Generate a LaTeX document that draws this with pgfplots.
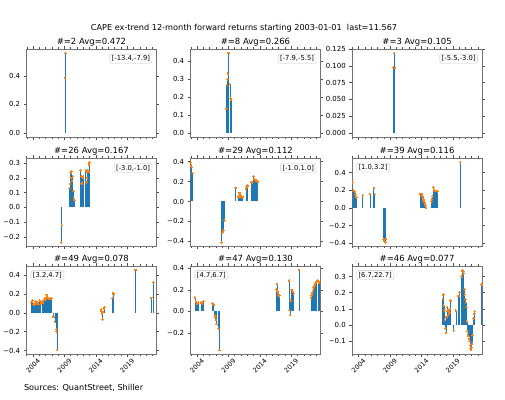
\documentclass[border=0pt]{standalone}
\usepackage{pgfplots}
\pgfplotsset{compat=1.18}
\usepackage{pgfplotstable}
\usepackage{fontspec}
\setmainfont{DejaVu Sans}
\definecolor{mplblue}{RGB}{31,119,180}
\definecolor{mplorange}{RGB}{255,127,14}

\pgfplotstableread{
x y
2009.083 0.386
2009.167 0.558
}\dA
\pgfplotstableread{
x y
2008.667 0.135
2008.750 0.267
2008.833 0.299
2008.917 0.332
2009.000 0.446
2009.250 0.273
2009.333 0.194
2009.417 0.185
}\dB
\pgfplotstableread{
x y
2009.583 0.098
2009.667 0.119
2009.750 0.097
}\dC
\pgfplotstableread{
x y
2008.500 -0.236
2008.583 -0.119
2009.833 0.13
2009.917 0.16
2010.000 0.235
2010.083 0.20
2010.167 0.245
2010.250 0.18
2010.333 0.21
2010.417 0.11
2010.500 0.06
2010.583 0.05
2011.583 0.25
2011.667 0.21
2011.750 0.16
2011.833 0.17
2011.917 0.20
2012.000 0.21
2012.417 0.25
2012.500 0.17
2012.583 0.20
2012.667 0.24
2012.750 0.25
2012.833 0.24
2012.917 0.29
2013.000 0.305
}\dD
\pgfplotstableread{
x y
2003.000 0.394
2003.083 0.36
2003.167 0.345
2003.250 0.285
2007.917 -0.41
2008.083 -0.31
2008.250 -0.29
2008.417 -0.19
2010.167 0.136
2010.583 0.046
2010.667 0.05
2010.750 0.086
2010.833 0.07
2010.917 0.063
2011.000 0.046
2011.083 0.04
2011.167 0.05
2011.250 0.046
2011.833 0.13
2011.917 0.15
2012.083 0.16
2012.583 0.195
2012.833 0.19
2013.000 0.255
2013.083 0.228
2013.250 0.218
2013.417 0.21
2013.583 0.205
2013.667 0.20
}\dE
\pgfplotstableread{
x y
2003.083 0.29
2003.167 0.20
2003.250 0.20
2003.333 0.19
2003.417 0.18
2003.500 0.15
2003.583 0.13
2003.667 0.12
2004.667 0.143
2005.833 0.16
2006.417 0.226
2006.583 0.155
2008.000 -0.36
2008.083 -0.37
2008.167 -0.385
2008.250 -0.39
2008.333 -0.35
2013.833 0.158
2013.917 0.16
2014.000 0.158
2014.083 0.15
2014.167 0.13
2014.250 0.113
2014.333 0.09
2014.417 0.075
2014.500 0.06
2014.583 0.045
2014.667 0.03
2014.750 0.0
2015.583 0.075
2015.667 0.10
2015.750 0.13
2015.917 0.234
2016.000 0.21
2016.083 0.196
2016.250 0.19
2016.417 0.19
2016.583 0.185
2020.167 0.517
}\dF
\pgfplotstableread{
x y
2003.750 0.112
2003.833 0.12
2003.917 0.13
2004.083 0.09
2004.167 0.08
2004.250 0.095
2004.333 0.10
2004.417 0.123
2004.500 0.11
2004.583 0.10
2004.750 0.112
2004.833 0.10
2004.917 0.09
2005.083 0.13
2005.167 0.12
2005.250 0.10
2005.417 0.10
2005.500 0.12
2005.583 0.11
2005.667 0.13
2005.750 0.137
2005.917 0.14
2006.000 0.158
2006.083 0.15
2006.167 0.19
2006.250 0.17
2006.333 0.165
2006.500 0.15
2006.667 0.147
2006.833 0.15
2006.917 0.15
2007.250 -0.045
2007.500 -0.10
2007.667 -0.175
2007.750 -0.20
2007.833 -0.395
2014.833 0.035
2014.917 0.01
2015.000 -0.01
2015.083 -0.07
2015.167 0.007
2015.333 0.042
2015.417 0.06
2016.667 0.155
2016.750 0.21
2016.833 0.20
2020.333 0.453
2022.833 0.158
2023.167 0.32
}\dG
\pgfplotstableread{
x y
2003.667 0.127
2003.833 0.09
2004.000 0.075
2004.167 0.08
2004.667 0.08
2004.833 0.075
2005.000 0.09
2006.500 0.075
2006.583 0.065
2006.667 0.06
2006.833 -0.035
2006.917 -0.05
2007.000 -0.08
2007.083 -0.12
2007.417 -0.16
2007.583 -0.36
2016.667 0.205
2016.750 0.255
2016.833 0.183
2016.917 0.168
2017.000 0.152
2017.083 0.14
2017.167 0.15
2018.667 0.286
2018.750 0.012
2018.833 -0.035
2018.917 0.10
2019.083 0.20
2019.250 0.183
2019.417 0.168
2020.250 0.385
2022.167 0.13
2022.250 0.15
2022.333 0.168
2022.417 0.18
2022.500 0.205
2022.583 0.22
2022.667 0.236
2022.750 0.245
2022.833 0.255
2022.917 0.26
2023.000 0.276
2023.083 0.28
2023.250 0.286
2023.333 0.28
2023.417 0.27
2023.500 0.275
}\dH
\pgfplotstableread{
x y
2017.417 0.16
2017.500 0.187
2017.583 0.12
2017.667 0.09
2017.750 0.03
2017.833 -0.022
2017.917 -0.049
2018.000 0.05
2018.083 0.11
2018.167 0.086
2018.250 0.06
2018.333 0.094
2018.417 0.07
2018.500 0.08
2018.583 0.10
2018.667 0.15
2019.167 -0.033
2019.500 0.09
2019.917 0.18
2020.083 0.20
2020.417 0.30
2020.500 0.335
2020.583 0.34
2020.667 0.33
2020.750 0.32
2020.833 0.22
2020.917 0.19
2021.000 0.16
2021.083 0.14
2021.167 0.11
2021.250 0.02
2021.333 -0.04
2021.417 -0.063
2021.500 -0.07
2021.583 -0.084
2021.667 -0.10
2021.750 -0.125
2021.833 -0.145
2021.917 -0.155
2022.000 -0.14
2022.083 -0.115
2022.167 -0.063
2022.333 0.04
2022.417 0.07
2022.500 0.086
2023.583 0.249
}\dI

\tikzset{
  rng/.style={draw=black!22, fill=white, rounded corners=1.5bp, inner xsep=2bp, inner ysep=1.5bp, font=\fontsize{6.8}{8}\selectfont},
}
\pgfplotsset{
  panel/.style={
    scale only axis, width=129.5bp, height=88bp, anchor=north west,
    xmin=2003, xmax=2023.62,
    xtick={2004,2009,2014,2019},
    minor xtick={2003,2004,...,2023},
    xticklabels={,,,},
    tick align=outside,
    major tick length=3bp, minor tick length=1.8bp,
    every tick/.style={black!70, line width=0.4bp},
    axis line style={black!55, line width=0.6bp},
    ticklabel style={font=\fontsize{7}{8}\selectfont},
    title style={font=\fontsize{8.5}{10}\selectfont, yshift=-6.5bp},
  },
  bottompanel/.style={
    xticklabels={2004,2009,2014,2019},
    xticklabel style={yshift=-8.5bp, rotate=45, anchor=center, font=\fontsize{6.6}{8}\selectfont},
  },
  stem/.style={ycomb, draw=mplblue, line width=0.7bp, mark=none},
  dots/.style={only marks, mark=*, mark size=0.75bp, color=mplorange, mark options={fill=mplorange, draw=mplorange, line width=0bp}},
}
\newcommand{\rngR}[1]{\node[rng, anchor=north east] at ([xshift=-4bp,yshift=-5bp]rel axis cs:1,1) {#1};}
\newcommand{\rngL}[1]{\node[rng, anchor=north west] at ([xshift=4bp,yshift=-4.5bp]rel axis cs:0,1) {#1};}

\begin{document}
\begin{tikzpicture}
\useasboundingbox (0,0) rectangle (505bp,400bp);
\node[font=\fontsize{8.2}{10}\selectfont] at (244bp,372bp) {CAPE ex-trend 12-month forward returns starting 2003-01-01\ \ last=11.567};
\node[font=\fontsize{8.2}{10}\selectfont, anchor=west] at (20.5bp,12.3bp) {Sources: QuantStreet, Shiller};

% Row 1
\begin{axis}[panel, at={(26.7bp,351bp)}, title={\#=2 Avg=0.472},
  ymin=-0.028, ymax=0.587, ytick={0,0.2,0.4}, yticklabels={0.0,0.2,0.4}]
\addplot[stem] table {\dA};
\addplot[dots] table {\dA};
\rngR{[-13.4,-7.9]}
\end{axis}
\begin{axis}[panel, at={(190.7bp,351bp)}, title={\#=8 Avg=0.266},
  ymin=-0.022, ymax=0.468, ytick={0,0.1,0.2,0.3,0.4}, yticklabels={0.0,0.1,0.2,0.3,0.4}]
\addplot[stem] table {\dB};
\addplot[dots] table {\dB};
\rngR{[-7.9,-5.5]}
\end{axis}
\begin{axis}[panel, at={(352.3bp,351bp)}, title={\#=3 Avg=0.105},
  ymin=-0.006, ymax=0.125, ytick={0,0.025,0.05,0.075,0.1,0.125}, yticklabels={0.000,0.025,0.050,0.075,0.100,0.125}]
\addplot[stem] table {\dC};
\addplot[dots] table {\dC};
\rngR{[-5.5,-3.0]}
\end{axis}

% Row 2
\begin{axis}[panel, at={(26.7bp,241.7bp)}, title={\#=26 Avg=0.167},
  ymin=-0.263, ymax=0.332, ytick={-0.2,-0.1,0,0.1,0.2,0.3}, yticklabels={−0.2,−0.1,0.0,0.1,0.2,0.3}]
\addplot[stem] table {\dD};
\addplot[dots] table {\dD};
\rngR{[-3.0,-1.0]}
\end{axis}
\begin{axis}[panel, at={(190.7bp,241.7bp)}, title={\#=29 Avg=0.112},
  ymin=-0.45, ymax=0.434, ytick={-0.4,-0.2,0,0.2,0.4}, yticklabels={−0.4,−0.2,0.0,0.2,0.4}]
\addplot[stem] table {\dE};
\addplot[dots] table {\dE};
\rngR{[-1.0,1.0]}
\end{axis}
\begin{axis}[panel, at={(352.3bp,241.7bp)}, title={\#=39 Avg=0.116},
  ymin=-0.435, ymax=0.562, ytick={-0.4,-0.2,0,0.2,0.4}, yticklabels={−0.4,−0.2,0.0,0.2,0.4}]
\addplot[stem] table {\dF};
\addplot[dots] table {\dF};
\rngL{[1.0,3.2]}
\end{axis}

% Row 3
\begin{axis}[panel, bottompanel, at={(26.7bp,134bp)}, title={\#=49 Avg=0.078},
  ymin=-0.437, ymax=0.495, ytick={-0.4,-0.2,0,0.2,0.4}, yticklabels={−0.4,−0.2,0.0,0.2,0.4}]
\addplot[stem] table {\dG};
\addplot[dots] table {\dG};
\rngL{[3.2,4.7]}
\end{axis}
\begin{axis}[panel, bottompanel, at={(190.7bp,134bp)}, title={\#=47 Avg=0.130},
  ymin=-0.397, ymax=0.422, ytick={-0.2,0,0.2,0.4}, yticklabels={−0.2,0.0,0.2,0.4}]
\addplot[stem] table {\dH};
\addplot[dots] table {\dH};
\rngL{[4.7,6.7]}
\end{axis}
\begin{axis}[panel, bottompanel, at={(352.3bp,134bp)}, title={\#=46 Avg=0.077},
  ymin=-0.18, ymax=0.365, ytick={-0.1,0,0.1,0.2,0.3}, yticklabels={−0.1,0.0,0.1,0.2,0.3}]
\addplot[stem] table {\dI};
\addplot[dots] table {\dI};
\rngL{[6.7,22.7]}
\end{axis}
\end{tikzpicture}
\end{document}
